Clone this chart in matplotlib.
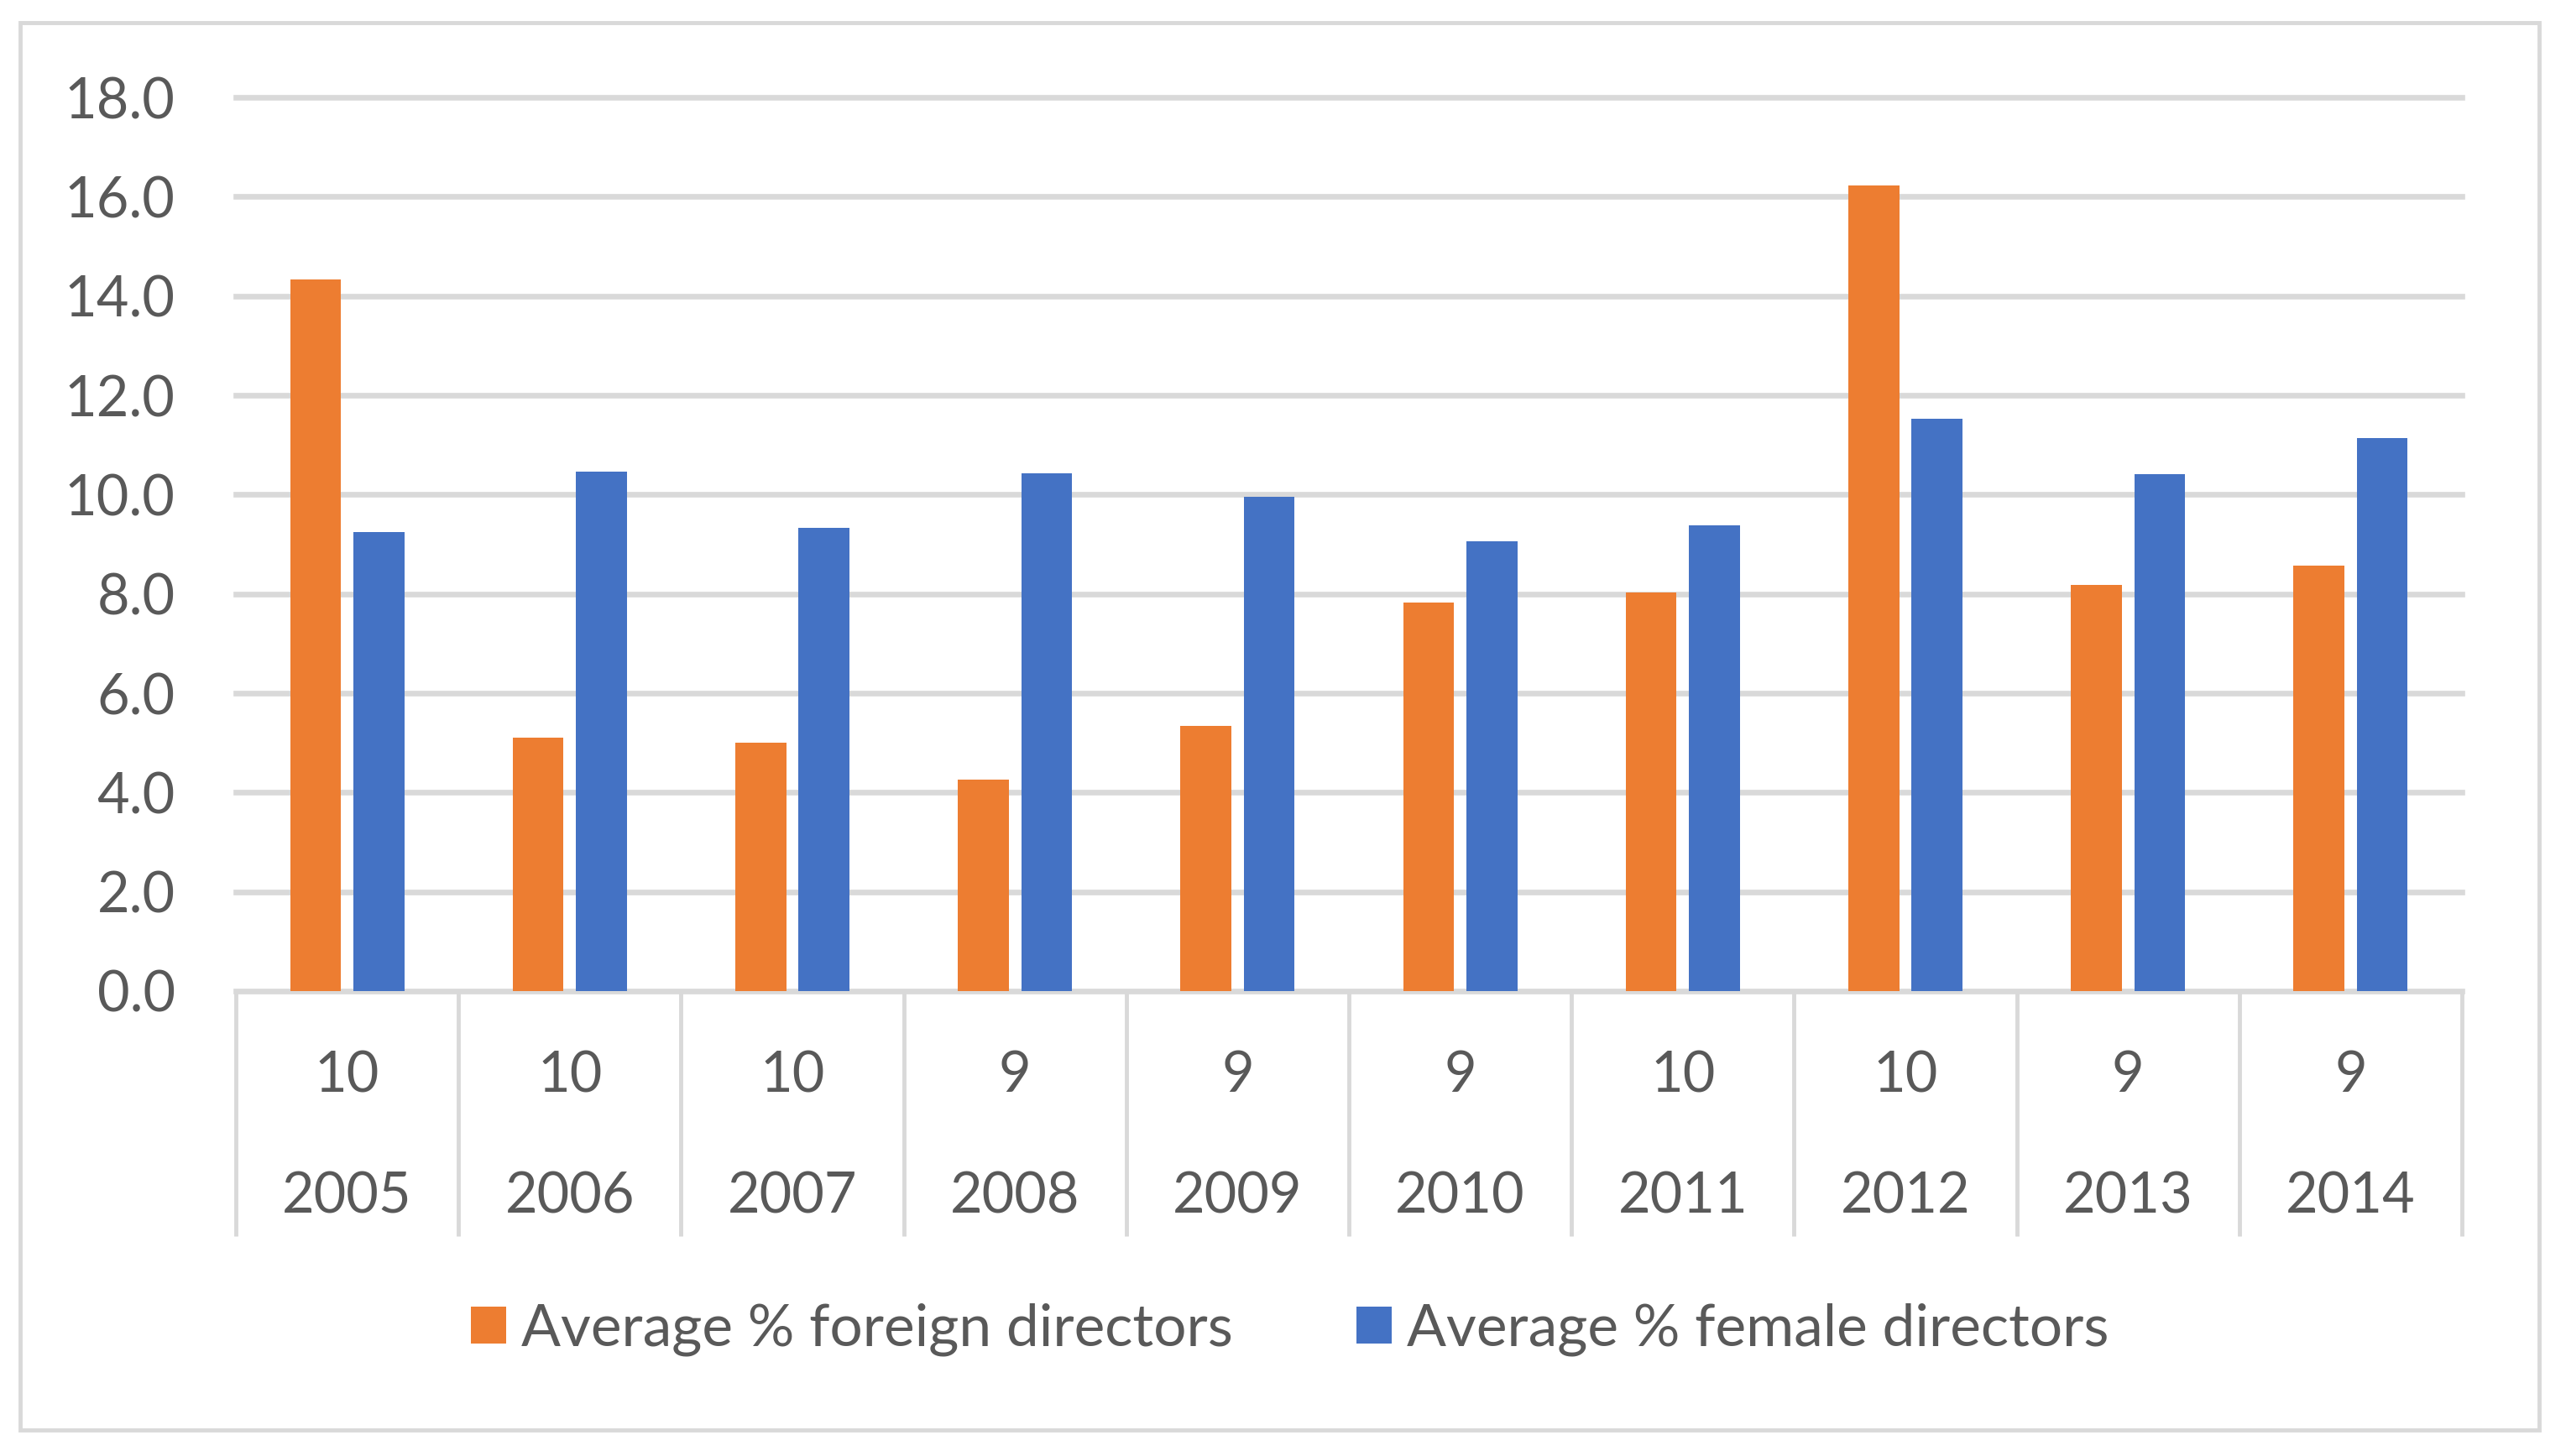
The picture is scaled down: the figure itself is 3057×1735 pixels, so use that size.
import matplotlib
matplotlib.use("Agg")
import matplotlib.pyplot as plt
from matplotlib.patches import Patch, Rectangle
import matplotlib.transforms as mtransforms
import numpy as np

years = ["2005", "2006", "2007", "2008", "2009", "2010", "2011", "2012", "2013", "2014"]
counts = ["10", "10", "10", "9", "9", "9", "10", "10", "9", "9"]
foreign = [14.33, 5.10, 5.00, 4.26, 5.34, 7.83, 8.03, 16.22, 8.18, 8.57]
female = [9.25, 10.46, 9.33, 10.43, 9.95, 9.06, 9.38, 11.52, 10.41, 11.14]
series_names = ["Average % foreign directors", "Average % female directors"]
yticks = [0, 2, 4, 6, 8, 10, 12, 14, 16, 18]

ORANGE = "#ED7D31"
BLUE = "#4472C4"
GRID = "#D9D9D9"
TEXT = "#595959"
FONT = ["Lato", "DejaVu Sans"]
FS = 48
LEG_FS = 50

plt.rcParams["font.family"] = FONT

W, H = 3057, 1735
fig = plt.figure(figsize=(W / 100, H / 100), dpi=100)
fig.patch.set_facecolor("white")

ax_left, ax_right, ax_top, ax_bottom = 281, 2933, 116, 1181
ax = fig.add_axes([ax_left / W, 1 - ax_bottom / H, (ax_right - ax_left) / W, (ax_bottom - ax_top) / H])

x = np.arange(len(years))
bw = 0.2285
off = 0.142
ax.bar(x - off, foreign, width=bw, color=ORANGE, zorder=3)
ax.bar(x + off, female, width=bw, color=BLUE, zorder=3)

ax.set_xlim(-0.5, len(years) - 0.5)
ax.set_ylim(0, 18)
ax.set_yticks(yticks)
ax.set_yticklabels([f"{v:.1f}" for v in yticks], fontsize=FS, color=TEXT)
ax.tick_params(axis="y", length=0, pad=52)
ax.set_xticks([])
for s in ax.spines.values():
    s.set_visible(False)
ax.yaxis.grid(True, color=GRID, linewidth=4.8, zorder=0)
ax.set_axisbelow(True)
for gl in ax.get_ygridlines():
    gl.set_clip_on(False)

trans = mtransforms.blended_transform_factory(ax.transData, ax.transAxes)
sep_bottom = -(1473 - ax_bottom) / (ax_bottom - ax_top)
for k in range(len(years) + 1):
    ax.plot([k - 0.5, k - 0.5], [0, sep_bottom], transform=trans, color=GRID,
            linewidth=3.5, clip_on=False, solid_capstyle="butt")

cnt_y = -(1301 - ax_bottom) / (ax_bottom - ax_top)
yr_y = -(1446 - ax_bottom) / (ax_bottom - ax_top)
for i in range(len(years)):
    ax.text(x[i], cnt_y, counts[i], transform=trans, ha="center", va="baseline",
            fontsize=FS, color=TEXT)
    ax.text(x[i], yr_y, years[i], transform=trans, ha="center", va="baseline",
            fontsize=FS, color=TEXT)

handles = [Patch(facecolor=ORANGE, edgecolor="none"), Patch(facecolor=BLUE, edgecolor="none")]
leg = fig.legend(handles, series_names, loc="center", bbox_to_anchor=(1537 / W, 1 - 1584 / H),
                 ncol=2, frameon=False, fontsize=LEG_FS, handlelength=0.605, handleheight=0.605,
                 handletextpad=0.26, columnspacing=2.12, borderpad=0, borderaxespad=0)
for t in leg.get_texts():
    t.set_color(TEXT)

frame = Rectangle((24.5 / W, 1 - 1704 / H), (3024.7 - 24.5) / W, (1704 - 26.8) / H,
                  transform=fig.transFigure, fill=False, edgecolor=GRID, linewidth=3.5)
fig.patches.append(frame)

fig.savefig("out.png", dpi=100, facecolor="white")
